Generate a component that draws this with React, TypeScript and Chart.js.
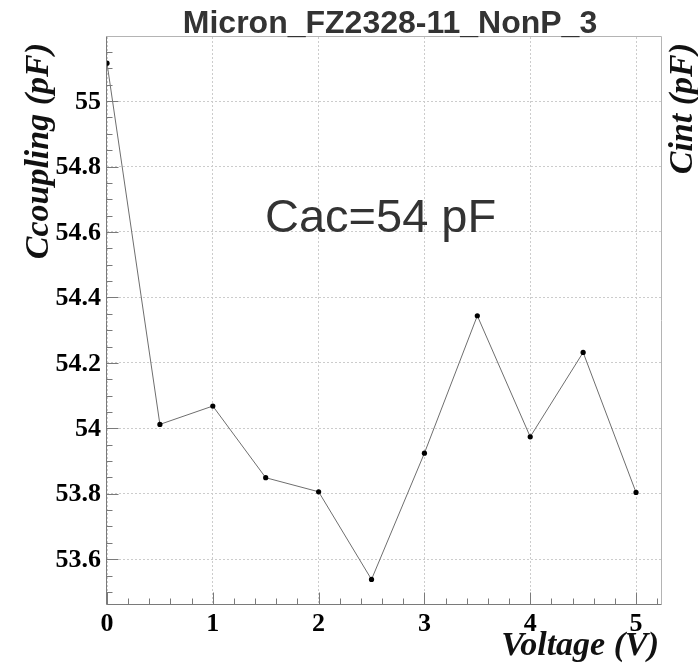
import { useEffect, useRef } from 'react';
import { Chart, registerables } from 'chart.js';

Chart.register(...registerables);

// Bias voltage (V) and measured coupling capacitance (pF)
const voltages = [0, 0.5, 1, 1.5, 2, 2.5, 3, 3.5, 4, 4.5, 5];
const ccoupling = [55.116, 54.012, 54.068, 53.849, 53.806, 53.538, 53.924, 54.344, 53.974, 54.232, 53.804];

const xTicks = [0, 1, 2, 3, 4, 5];
const yTicks = [53.6, 53.8, 54, 54.2, 54.4, 54.6, 54.8, 55];
const xMinorStep = 0.2;
const yMinorStep = 0.05;
const xRange = [0, 5.236];
const yRange = [53.463, 55.196];

const chartTitle = 'Micron_FZ2328-11_NonP_3';
const noteText = 'Cac=54 pF';
const xTitle = 'Voltage (V)';
const yTitle = 'Ccoupling (pF)';
const y2Title = 'Cint (pF)';

const SERIF_BOLD = 'bold 26px "Liberation Serif", "Times New Roman", serif';
const SERIF_TITLE = 'italic bold 34px "Liberation Serif", "Times New Roman", serif';
const SANS = '"Liberation Sans", Arial, sans-serif';

const near = (v: number, step: number) => Math.abs(v / step - Math.round(v / step)) < 1e-6;

// Draws the ROOT-style frame, inward ticks, tick labels and all text.
const rootDecor = {
  id: 'rootDecor',
  afterDatasetsDraw(chart: any) {
    const { ctx, chartArea: a, scales } = chart;
    const xs = scales.x;
    const ys = scales.y;
    const L = a.left - 0.5;
    const R = a.right + 0.5;
    const T = a.top - 0.5;
    const B = a.bottom + 0.5;
    ctx.save();
    ctx.lineWidth = 1;

    // upper and right frame edges
    ctx.strokeStyle = '#b4b4b4';
    ctx.beginPath();
    ctx.moveTo(L, T);
    ctx.lineTo(R, T);
    ctx.lineTo(R, B);
    ctx.stroke();

    // axes
    ctx.strokeStyle = '#7a7a7a';
    ctx.beginPath();
    ctx.moveTo(L, T);
    ctx.lineTo(L, B);
    ctx.lineTo(R, B);
    ctx.stroke();

    // y ticks (inside)
    ctx.beginPath();
    const yStart = Math.ceil(yRange[0] / yMinorStep) * yMinorStep;
    for (let v = yStart; v <= yRange[1] + 1e-9; v += yMinorStep) {
      const py = Math.round(ys.getPixelForValue(v)) + 0.5;
      const len = near(v, 0.2) ? 12 : 6;
      ctx.moveTo(L, py);
      ctx.lineTo(L + len, py);
    }
    // x ticks (inside)
    for (let v = xRange[0]; v <= xRange[1] + 1e-9; v += xMinorStep) {
      const px = Math.round(xs.getPixelForValue(v)) + 0.5;
      const len = near(v, 1) ? 12 : 6;
      ctx.moveTo(px, B);
      ctx.lineTo(px, B - len);
    }
    ctx.stroke();

    // tick labels
    ctx.fillStyle = '#000';
    ctx.font = SERIF_BOLD;
    ctx.textAlign = 'right';
    ctx.textBaseline = 'middle';
    yTicks.forEach((v) => {
      ctx.fillText(String(v), a.left - 6, ys.getPixelForValue(v) + 1);
    });
    ctx.textAlign = 'center';
    ctx.textBaseline = 'alphabetic';
    xTicks.forEach((v) => {
      ctx.fillText(String(v), xs.getPixelForValue(v), 631);
    });

    // axis titles
    ctx.fillStyle = '#111';
    ctx.font = SERIF_TITLE;
    ctx.textAlign = 'right';
    ctx.fillText(xTitle, a.right - 2, 655);

    ctx.save();
    ctx.translate(48, 43);
    ctx.rotate(-Math.PI / 2);
    ctx.fillText(yTitle, 0, 0);
    ctx.restore();

    ctx.save();
    ctx.translate(692, 43);
    ctx.rotate(-Math.PI / 2);
    ctx.fillText(y2Title, 0, 0);
    ctx.restore();

    // plot title
    ctx.fillStyle = '#333';
    ctx.font = `bold 32px ${SANS}`;
    ctx.textAlign = 'center';
    ctx.fillText(chartTitle, 390, 33);

    // annotation
    ctx.font = `47px ${SANS}`;
    ctx.textAlign = 'left';
    ctx.fillText(noteText, 265, 232);

    ctx.restore();
  },
};

export default function App() {
  const ref = useRef<HTMLCanvasElement>(null);

  useEffect(() => {
    if (!ref.current) return;
    const chart = new Chart(ref.current, {
      type: 'scatter',
      data: {
        datasets: [
          {
            data: voltages.map((v, i) => ({ x: v, y: ccoupling[i] })),
            showLine: true,
            borderColor: '#6e6e6e',
            borderWidth: 1,
            pointRadius: 2.6,
            pointBackgroundColor: '#000',
            pointBorderColor: '#000',
            pointBorderWidth: 0,
            tension: 0,
          },
        ],
      },
      options: {
        responsive: false,
        animation: false,
        events: [],
        layout: { padding: { left: 0, top: 37, right: 37, bottom: 0 } },
        plugins: { legend: { display: false }, tooltip: { enabled: false }, title: { display: false } },
        scales: {
          x: {
            type: 'linear',
            min: xRange[0],
            max: xRange[1],
            afterBuildTicks: (s: any) => {
              s.ticks = xTicks.map((v) => ({ value: v }));
            },
            afterFit: (s: any) => {
              s.height = 63;
            },
            ticks: { display: false },
            grid: { color: '#cccccc', lineWidth: 1, drawTicks: false },
            border: { display: false, dash: [2, 2] },
          },
          y: {
            type: 'linear',
            min: yRange[0],
            max: yRange[1],
            afterBuildTicks: (s: any) => {
              s.ticks = yTicks.map((v) => ({ value: v }));
            },
            afterFit: (s: any) => {
              s.width = 107;
            },
            ticks: { display: false },
            grid: { color: '#cccccc', lineWidth: 1, drawTicks: false },
            border: { display: false, dash: [2, 2] },
          },
        },
      },
      plugins: [rootDecor],
    });
    return () => chart.destroy();
  }, []);

  return (
    <div style={{ position: 'fixed', left: 0, top: 0, width: 698, height: 667, background: '#fff' }}>
      <canvas ref={ref} width={698} height={667} style={{ display: 'block', width: 698, height: 667 }} />
    </div>
  );
}
